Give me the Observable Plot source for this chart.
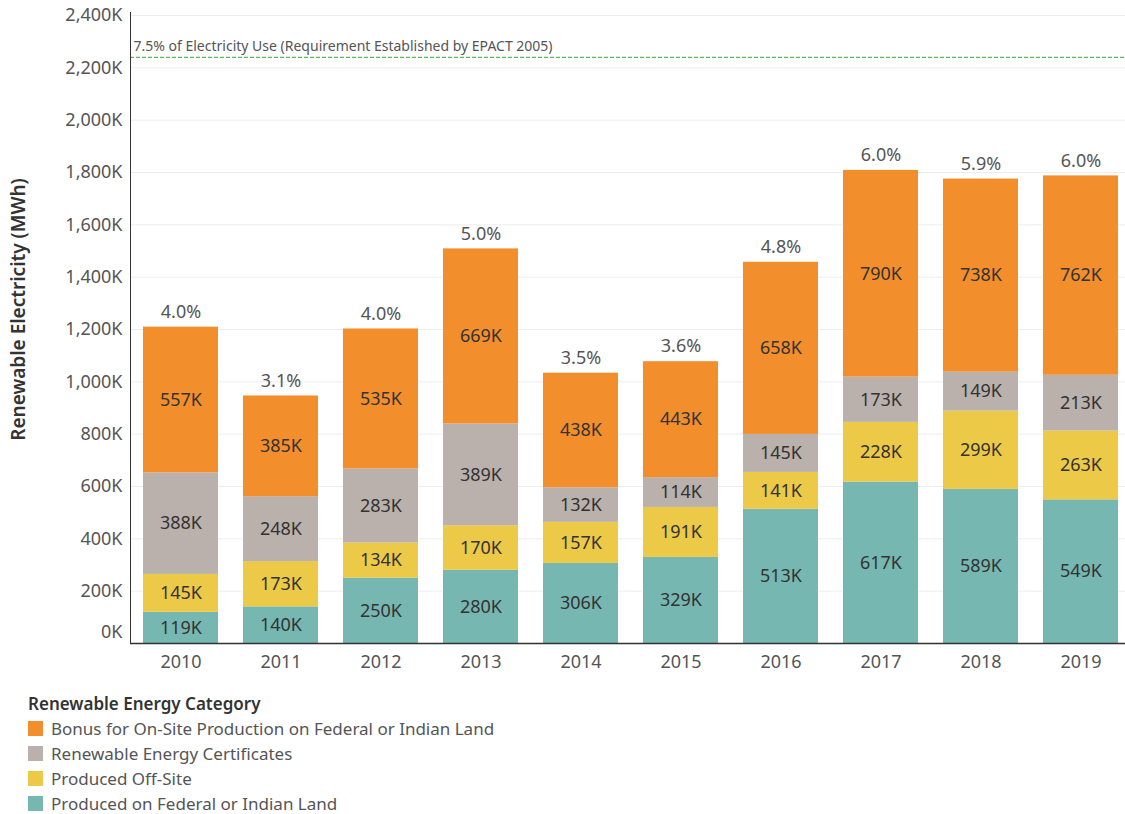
<!DOCTYPE html>
<html>
<head>
<meta charset="utf-8">
<script src="https://cdn.jsdelivr.net/npm/d3@7"></script>
<script src="https://cdn.jsdelivr.net/npm/@observablehq/plot@0.6"></script>
<style>
  body { margin: 0; background: #fff; font-family: "Noto Sans", Lato, sans-serif; }
  #chart svg { overflow: visible; }
  #legend { margin-left: 28px; margin-top: 3px; color: #555; font-size: 17px; }
  #legend .title { color: #333; font-weight: 600; height: 25px; line-height: 25px; }
  #legend .item { display: flex; align-items: center; height: 25px; }
  #legend .sw { width: 15px; height: 15px; margin-right: 8px; }
</style>
</head>
<body>
<div id="chart"></div>
<div id="legend"></div>
<script>
const years = ["2010","2011","2012","2013","2014","2015","2016","2017","2018","2019"];
const categories = [
  "Produced on Federal or Indian Land",
  "Produced Off-Site",
  "Renewable Energy Certificates",
  "Bonus for On-Site Production on Federal or Indian Land"
];
const colors = ["#76B7B2", "#EDC948", "#BAB0AC", "#F28E2B"];
const federalLand = [119, 140, 250, 280, 306, 329, 513, 617, 589, 549];
const offSite     = [145, 173, 134, 170, 157, 191, 141, 228, 299, 263];
const certificates= [388, 248, 283, 389, 132, 114, 145, 173, 149, 213];
const bonus       = [557, 385, 535, 669, 438, 443, 658, 790, 738, 762];
const pctLabels   = ["4.0%","3.1%","4.0%","5.0%","3.5%","3.6%","4.8%","6.0%","5.9%","6.0%"];
const requirement = 2240;
const requirementLabel = "7.5% of Electricity Use (Requirement Established by EPACT 2005)";
const yTicks = [0, 200, 400, 600, 800, 1000, 1200, 1400, 1600, 1800, 2000, 2200, 2400];

const series = [federalLand, offSite, certificates, bonus];
const rows = [];
years.forEach((yr, i) => {
  categories.forEach((c, k) => rows.push({year: yr, category: c, value: series[k][i]}));
});
const totals = years.map((yr, i) => ({
  year: yr,
  total: series.reduce((s, arr) => s + arr[i], 0),
  pct: pctLabels[i]
}));

const font = "'Noto Sans', Lato, sans-serif";
const fmtK = d => d3.format(",")(d) + "K";
const chart = Plot.plot({
  width: 1125,
  height: 688,
  marginLeft: 130,
  marginRight: 0,
  marginTop: 15,
  marginBottom: 45,
  style: {fontFamily: font, fontSize: "18px", color: "#555"},
  x: {domain: years, label: null, range: [130, 1130], paddingInner: 0.25, paddingOuter: 0.125},
  y: {domain: [0, 2400], label: null},
  color: {domain: categories, range: colors},
  marks: [
    Plot.gridY(yTicks, {stroke: "#ededed", strokeOpacity: 1}),
    Plot.axisY(yTicks.filter(d => d > 0), {tickSize: 0, tickPadding: 8, tickFormat: fmtK, fill: "#555", fontSize: 18, label: null}),
    Plot.axisY([0], {tickSize: 0, tickPadding: 8, tickFormat: fmtK, fill: "#555", fontSize: 18, label: null, dy: -11}),
    Plot.axisX({tickSize: 0, tickPadding: 12, fill: "#555", fontSize: 18, label: null}),
    Plot.text(["Renewable Electricity (MWh)"], {frameAnchor: "left", rotate: -90, textAnchor: "middle", dx: -112, dy: -20, fill: "#333", fontSize: 19, fontWeight: 600, text: d => d}),
    Plot.barY(rows, {x: "year", y: "value", fill: "category", order: categories}),
    Plot.text(rows, Plot.stackY({x: "year", y: "value", z: "category", order: categories, text: d => d.value + "K", fill: "#333", fontSize: 18})),
    Plot.text(totals, {x: "year", y: "total", text: "pct", dy: -15, fill: "#555", fontSize: 18}),
    Plot.ruleY([requirement], {stroke: "#5cb85c", strokeDasharray: "4,2", strokeWidth: 1.2}),
    Plot.text([requirementLabel], {frameAnchor: "left", y: requirement, text: d => d, textAnchor: "start", dx: 3, dy: -11, fill: "#555", fontSize: 14}),
    Plot.ruleY([0], {stroke: "#333", strokeWidth: 1.5})
  ]
});
document.getElementById("chart").appendChild(chart);

// Left axis line
d3.select(chart).append("line")
  .attr("x1", 130.5).attr("x2", 130.5).attr("y1", 12).attr("y2", 643)
  .attr("stroke", "#333");

const legend = document.getElementById("legend");
const title = document.createElement("div");
title.className = "title";
title.textContent = "Renewable Energy Category";
legend.appendChild(title);
[3, 2, 1, 0].forEach(k => {
  const item = document.createElement("div");
  item.className = "item";
  item.innerHTML = `<span class="sw" style="background:${colors[k]}"></span><span>${categories[k]}</span>`;
  legend.appendChild(item);
});
</script>
</body>
</html>
